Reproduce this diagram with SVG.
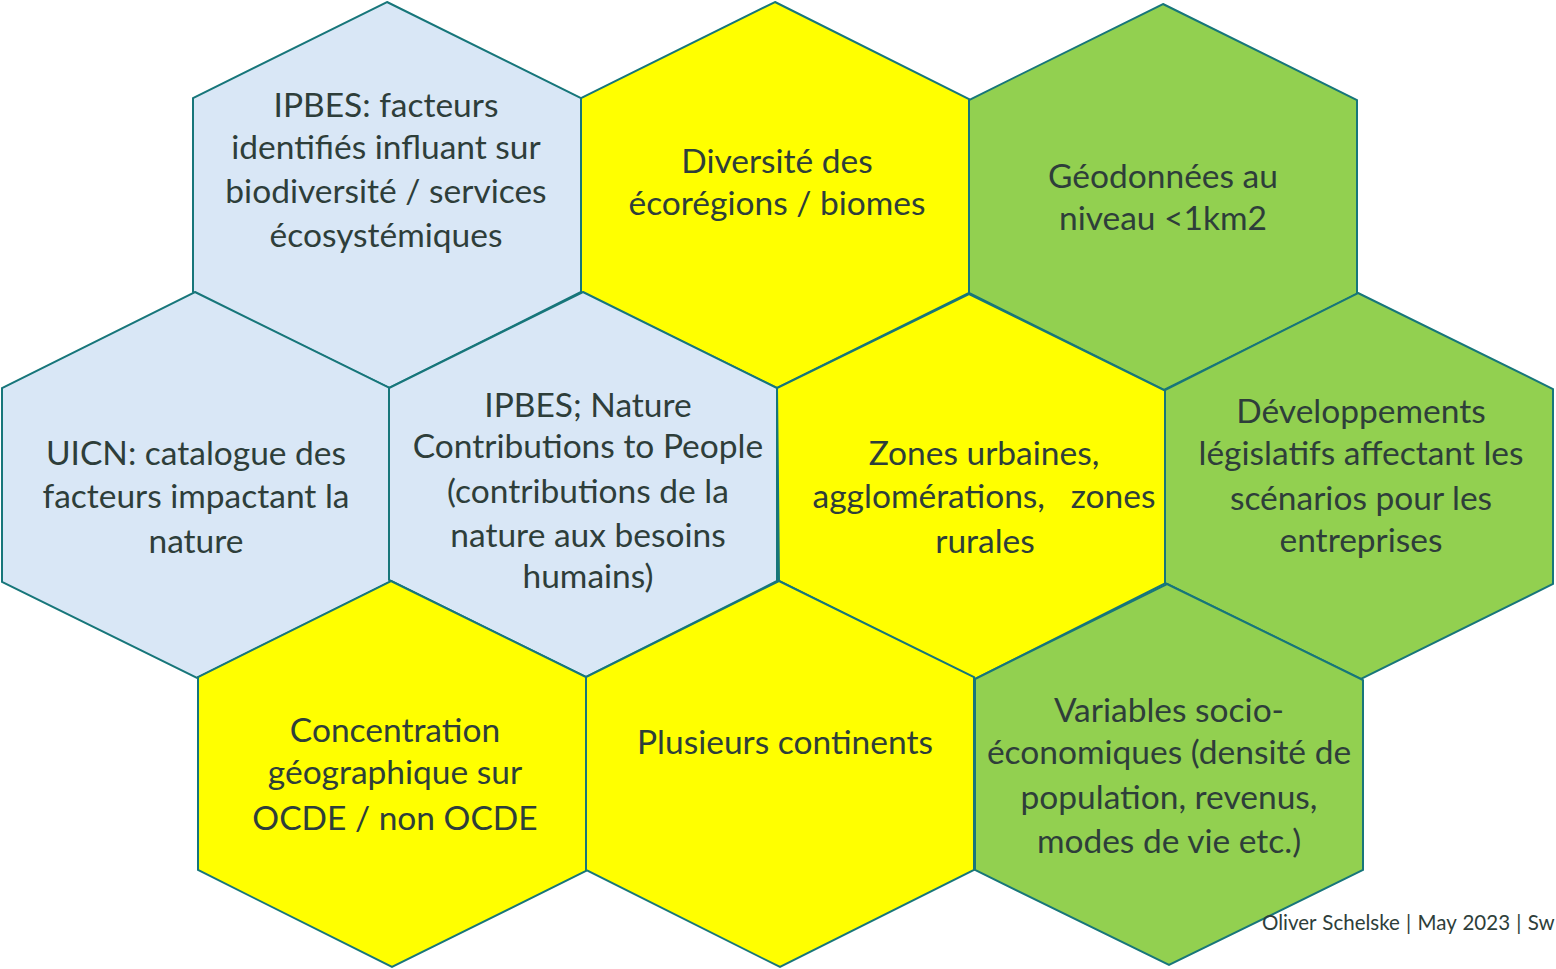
<svg xmlns="http://www.w3.org/2000/svg" width="1556" height="969" viewBox="0 0 1556 969">
<style>
.h{stroke:#17767A;stroke-width:2;stroke-linejoin:miter}
.b{fill:#D9E7F6}
.y{fill:#FFFF00}
.g{fill:#92D050}
.t{font-family:Lato,"Open Sans","Liberation Sans",sans-serif;font-size:33.5px;fill:#2E3E3A;text-anchor:middle;white-space:pre}
.f{font-family:Lato,"Open Sans","Liberation Sans",sans-serif;font-size:20.5px;fill:#2E3E3A;word-spacing:1px}
</style>
<rect width="1556" height="969" fill="#FFFFFF"/>
<g id="hex-ipbes-facteurs">
<polygon class="h b" points="387,2 581,98 581,292 389,388 193,292 193,98"/>
<text class="t" x="386" y="117">IPBES: facteurs</text>
<text class="t" x="386" y="159">identifiés influant sur</text>
<text class="t" x="386" y="203">biodiversité / services</text>
<text class="t" x="386" y="247">écosystémiques</text>
</g>
<g id="hex-diversite">
<polygon class="h y" points="775,2 969,99 969,293 777,388 581,292 581,98"/>
<text class="t" x="777" y="173">Diversité des</text>
<text class="t" x="777" y="215">écorégions / biomes</text>
</g>
<g id="hex-geodonnees">
<polygon class="h g" points="1163,4 1357,100 1357,294 1164,390 969,293 969,100"/>
<text class="t" x="1163" y="188">Géodonnées au</text>
<text class="t" x="1163" y="230">niveau &lt;1km2</text>
</g>
<g id="hex-uicn">
<polygon class="h b" points="195,292 390,388 390,582 197,678 2,582 2,388"/>
<text class="t" x="196" y="465">UICN: catalogue des</text>
<text class="t" x="196" y="508">facteurs impactant la</text>
<text class="t" x="196" y="553">nature</text>
</g>
<g id="hex-ipbes-ncp">
<polygon class="h b" points="583,292 777,388 777,581 586,677 389,580 389,388"/>
<text class="t" x="588" y="417">IPBES; Nature</text>
<text class="t" x="588" y="458">Contributions to People</text>
<text class="t" x="588" y="503">(contributions de la</text>
<text class="t" x="588" y="547">nature aux besoins</text>
<text class="t" x="588" y="588">humains)</text>
</g>
<g id="hex-zones">
<polygon class="h y" points="969,294 1166,391 1166,583 975,679 779,581 777,388"/>
<text class="t" x="984" y="465">Zones urbaines,</text>
<text class="t" x="984" y="508">agglomérations,   zones</text>
<text class="t" x="985" y="553">rurales</text>
</g>
<g id="hex-legislatifs">
<polygon class="h g" points="1358,293 1553,389 1553,584 1361,679 1165,583 1165,390"/>
<text class="t" x="1361" y="423">Développements</text>
<text class="t" x="1361" y="465">législatifs affectant les</text>
<text class="t" x="1361" y="510">scénarios pour les</text>
<text class="t" x="1361" y="552">entreprises</text>
</g>
<g id="hex-ocde">
<polygon class="h y" points="391,581 586,677 586,871 392,967 198,870 198,677"/>
<text class="t" x="395" y="742">Concentration</text>
<text class="t" x="395" y="784">géographique sur</text>
<text class="t" x="395" y="830">OCDE / non OCDE</text>
</g>
<g id="hex-continents">
<polygon class="h y" points="779,581 974,677 974,870 780,967 586,870 586,677"/>
<text class="t" x="785" y="754">Plusieurs continents</text>
</g>
<g id="hex-socio">
<polygon class="h g" points="1167,584 1363,680 1363,870 1169,965 975,870 975,679"/>
<text class="t" x="1169" y="722">Variables socio-</text>
<text class="t" x="1169" y="764">économiques (densité de</text>
<text class="t" x="1169" y="809">population, revenus,</text>
<text class="t" x="1169" y="853">modes de vie etc.)</text>
</g>
<g id="connectors"></g>
<text class="f" x="1262" y="930">Oliver Schelske | May 2023 | Sw</text>
</svg>
